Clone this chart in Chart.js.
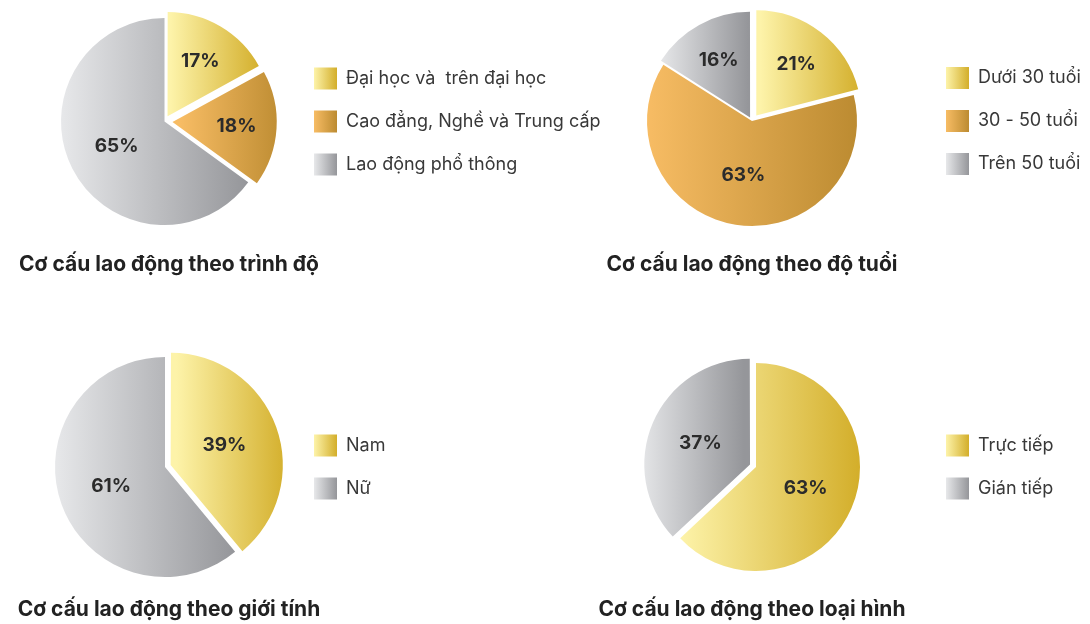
<!DOCTYPE html>
<html>
<head>
<meta charset="utf-8">
<script src="https://cdn.jsdelivr.net/npm/chart.js@4.4.1/dist/chart.umd.min.js"></script>
<style>
  html, body { margin: 0; padding: 0; background: #ffffff; }
  body { width: 1090px; height: 624px; position: relative; overflow: hidden; }
  .box { position: absolute; }
</style>
</head>
<body>
<div class="box" style="left:0px;top:0px;width:620px;height:312px;"><canvas id="c1"></canvas></div>
<div class="box" style="left:560px;top:0px;width:530px;height:312px;"><canvas id="c2"></canvas></div>
<div class="box" style="left:0px;top:312px;width:620px;height:312px;"><canvas id="c3"></canvas></div>
<div class="box" style="left:560px;top:312px;width:530px;height:312px;"><canvas id="c4"></canvas></div>
<script>
// ---- data ----
const levelLabels = ['Đại học và  trên đại học', 'Cao đẳng, Nghề và Trung cấp', 'Lao động phổ thông'];
const levelValues = [17, 18, 65];
const ageLabels = ['Dưới 30 tuổi', '30 - 50 tuổi', 'Trên 50 tuổi'];
const ageValues = [21, 63, 16];
const genderLabels = ['Nam', 'Nữ'];
const genderValues = [39, 61];
const typeLabels = ['Trực tiếp', 'Gián tiếp'];
const typeValues = [63, 37];
const chartTitles = [
  'Cơ cấu lao động theo trình độ',
  'Cơ cấu lao động theo độ tuổi',
  'Cơ cấu lao động theo giới tính',
  'Cơ cấu lao động theo loại hình'
];

// ---- styles ----
const YELLOW = ['#FDF3A9', '#D3AE2A'];
const ORANGE = ['#F7BC64', '#BC8B31'];
const GRAY = ['#E7E8EA', '#95969A'];

// geometry that mirrors Chart.js pie layout (offset is drawn as offset/4)
function sliceBounds(chart, ds, i) {
  const a = chart.chartArea;
  const data = ds.data;
  const total = data.reduce((s, v) => s + v, 0);
  const offs = ds.offset || [];
  const maxOff = Math.max(0, ...offs);
  const R = (Math.min(a.right - a.left, a.bottom - a.top) - maxOff) / 2;
  let start = -Math.PI / 2;
  for (let k = 0; k < i; k++) start += data[k] / total * 2 * Math.PI;
  const end = start + data[i] / total * 2 * Math.PI;
  const mid = (start + end) / 2;
  const t = (offs[i] || 0) / 4;
  const r = R + t * (1 - Math.sin(Math.min(Math.PI, end - start)));
  const cx = (a.left + a.right) / 2 + Math.cos(mid) * t;
  const xs = [cx, cx + r * Math.cos(start), cx + r * Math.cos(end)];
  [0, Math.PI].forEach(c => { if (c > start && c < end) xs.push(cx + r * Math.cos(c)); });
  return [Math.min(...xs), Math.max(...xs)];
}

function sliceGradient(context, palette) {
  const chart = context.chart;
  const stops = palette[context.dataIndex];
  if (!chart.chartArea) return stops[0];
  const [x0, x1] = sliceBounds(chart, context.dataset, context.dataIndex);
  const g = chart.ctx.createLinearGradient(x0, 0, x1, 0);
  g.addColorStop(0, stops[0]);
  g.addColorStop(1, stops[1]);
  return g;
}

const sliceLabelPlugin = {
  id: 'sliceLabels',
  afterDatasetsDraw(chart) {
    const meta = chart.getDatasetMeta(0);
    const ds = chart.data.datasets[0];
    const total = ds.data.reduce((a, b) => a + b, 0);
    const ctx = chart.ctx;
    ctx.save();
    ctx.font = '700 19px Inter';
    ctx.fillStyle = '#2b2b2b';
    ctx.textAlign = 'center';
    ctx.textBaseline = 'middle';
    meta.data.forEach((arc, i) => {
      const v = ds.data[i];
      const mid = (arc.startAngle + arc.endAngle) / 2;
      const f = v / total < 0.25 ? 0.62 : 0.52;
      const d = (ds.offset[i] || 0) / 4 + f * arc.outerRadius;
      ctx.fillText(v + '%', arc.x + Math.cos(mid) * d, arc.y + Math.sin(mid) * d);
    });
    ctx.restore();
  }
};

const pieTitlePlugin = {
  id: 'pieTitle',
  afterDraw(chart, args, opts) {
    const ctx = chart.ctx;
    ctx.save();
    ctx.font = '700 21px Inter';
    ctx.fillStyle = '#222222';
    ctx.textAlign = 'center';
    ctx.textBaseline = 'middle';
    ctx.fillText(opts.text, opts.x, opts.y);
    ctx.restore();
  }
};

const legendPlugin = {
  id: 'legendFix',
  beforeLayout(chart, args, opts) {
    const lg = chart.legend;
    if (lg && !lg.__fixed) {
      const orig = lg.fit;
      lg.fit = function () { orig.call(this); this.width = opts.width; };
      lg.__fixed = true;
    }
  },
  beforeDraw(chart, args, opts) {
    const lg = chart.legend;
    if (!lg || !lg.legendItems || !lg.legendHitBoxes) return;
    const bw = lg.options.labels.boxWidth;
    lg.legendItems.forEach((item, i) => {
      const hb = lg.legendHitBoxes[i];
      if (!hb) return;
      const stops = opts.palette[i];
      const g = chart.ctx.createLinearGradient(hb.left, 0, hb.left + bw, 0);
      g.addColorStop(0, stops[0]);
      g.addColorStop(1, stops[1]);
      item.fillStyle = g;
      item.strokeStyle = 'rgba(0,0,0,0)';
      item.lineWidth = 0;
    });
  }
};

function makePie(id, labels, values, palette, offsets, padding, legendWidth, title, titleX, titleY) {
  return new Chart(document.getElementById(id), {
    type: 'pie',
    data: {
      labels: labels,
      datasets: [{
        data: values,
        offset: offsets,
        hoverOffset: 0,
        borderWidth: 0,
        hoverBorderWidth: 0,
        backgroundColor: (c) => sliceGradient(c, palette)
      }]
    },
    options: {
      responsive: true,
      maintainAspectRatio: false,
      animation: false,
      events: [],
      layout: { padding: padding },
      plugins: {
        legend: {
          position: 'right',
          labels: {
            boxWidth: 23,
            boxHeight: 22,
            padding: 21,
            color: '#383838',
            font: { family: 'Inter', size: 18 }
          }
        },
        tooltip: { enabled: false },
        title: { display: false },
        pieTitle: { text: title, x: titleX, y: titleY },
        legendFix: { width: legendWidth, palette: palette }
      }
    },
    plugins: [sliceLabelPlugin, pieTitlePlugin, legendPlugin]
  });
}

makePie('c1', levelLabels, levelValues, [YELLOW, ORANGE, GRAY], [24, 32, 0],
  { left: 36, top: 2, right: 0, bottom: 71 }, 327, chartTitles[0], 169, 265);
makePie('c2', ageLabels, ageValues, [YELLOW, ORANGE, GRAY], [28, 0, 16],
  { left: 19, top: 2, right: 0, bottom: 72 }, 165, chartTitles[1], 192, 265);
makePie('c3', genderLabels, genderValues, [YELLOW, GRAY], [24, 0],
  { left: 37, top: 33, right: 0, bottom: 35 }, 327, chartTitles[2], 169, 298);
makePie('c4', typeLabels, typeValues, [YELLOW, GRAY], [0, 26],
  { left: 27, top: 38, right: 0, bottom: 40 }, 165, chartTitles[3], 192, 298);
</script>
</body>
</html>
